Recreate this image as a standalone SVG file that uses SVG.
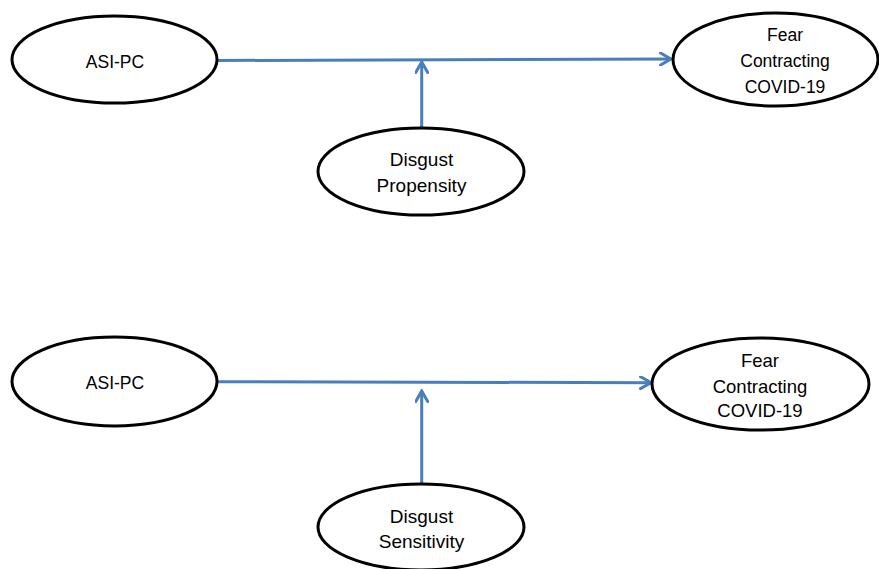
<svg xmlns="http://www.w3.org/2000/svg" width="879" height="569" viewBox="0 0 879 569">
  <style>
    .node ellipse { fill: #ffffff; stroke: #000000; stroke-width: 3; }
    .node text { font-family: "Liberation Sans", Arial, sans-serif; fill: #000000; text-anchor: middle; }
    .conn path { fill: none; stroke: #4A7EBB; stroke-width: 3; }
  </style>
  <defs>
    <marker id="arrow" viewBox="0 0 14 14" refX="12" refY="7" markerWidth="14" markerHeight="14" markerUnits="userSpaceOnUse" orient="auto">
      <path d="M1.5,1 L12,7 L1.5,13" fill="none" stroke="#4A7EBB" stroke-width="3" stroke-linecap="round" stroke-linejoin="miter"/>
    </marker>
  </defs>
  <rect width="879" height="569" fill="#ffffff"/>
  <g id="connectors" class="conn">
    <path id="c1" d="M217,60.5 L671,59" marker-end="url(#arrow)"/>
    <path id="c2" d="M421.7,128 L421.7,62" marker-end="url(#arrow)"/>
    <path id="c3" d="M217,381.7 L651,382.7" marker-end="url(#arrow)"/>
    <path id="c4" d="M421.7,484 L421.7,391" marker-end="url(#arrow)"/>
  </g>
  <g id="asi-pc-1" class="node">
    <ellipse cx="114.5" cy="59.5" rx="102.5" ry="43.5"/>
    <text x="115" y="68" font-size="17.5">ASI-PC</text>
  </g>
  <g id="fear-1" class="node">
    <ellipse cx="775.5" cy="59.5" rx="102.5" ry="46.5"/>
    <text x="785" y="40.5" font-size="17.5">Fear</text>
    <text x="785" y="66.5" font-size="17.5">Contracting</text>
    <text x="785" y="93" font-size="17.5">COVID-19</text>
  </g>
  <g id="disgust-propensity" class="node">
    <ellipse cx="421" cy="171.5" rx="103" ry="43.5"/>
    <text x="421.5" y="166" font-size="19">Disgust</text>
    <text x="421.5" y="191.5" font-size="19">Propensity</text>
  </g>
  <g id="asi-pc-2" class="node">
    <ellipse cx="114.5" cy="381.5" rx="102.5" ry="44.5"/>
    <text x="115" y="389" font-size="17.5">ASI-PC</text>
  </g>
  <g id="fear-2" class="node">
    <ellipse cx="760.5" cy="384" rx="108.5" ry="46"/>
    <text x="760" y="366.5" font-size="18.5">Fear</text>
    <text x="760" y="392.5" font-size="18.5">Contracting</text>
    <text x="760" y="416.5" font-size="18.5">COVID-19</text>
  </g>
  <g id="disgust-sensitivity" class="node">
    <ellipse cx="421" cy="527" rx="103" ry="43"/>
    <text x="421.5" y="522.5" font-size="19">Disgust</text>
    <text x="421.5" y="548" font-size="19">Sensitivity</text>
  </g>
</svg>
